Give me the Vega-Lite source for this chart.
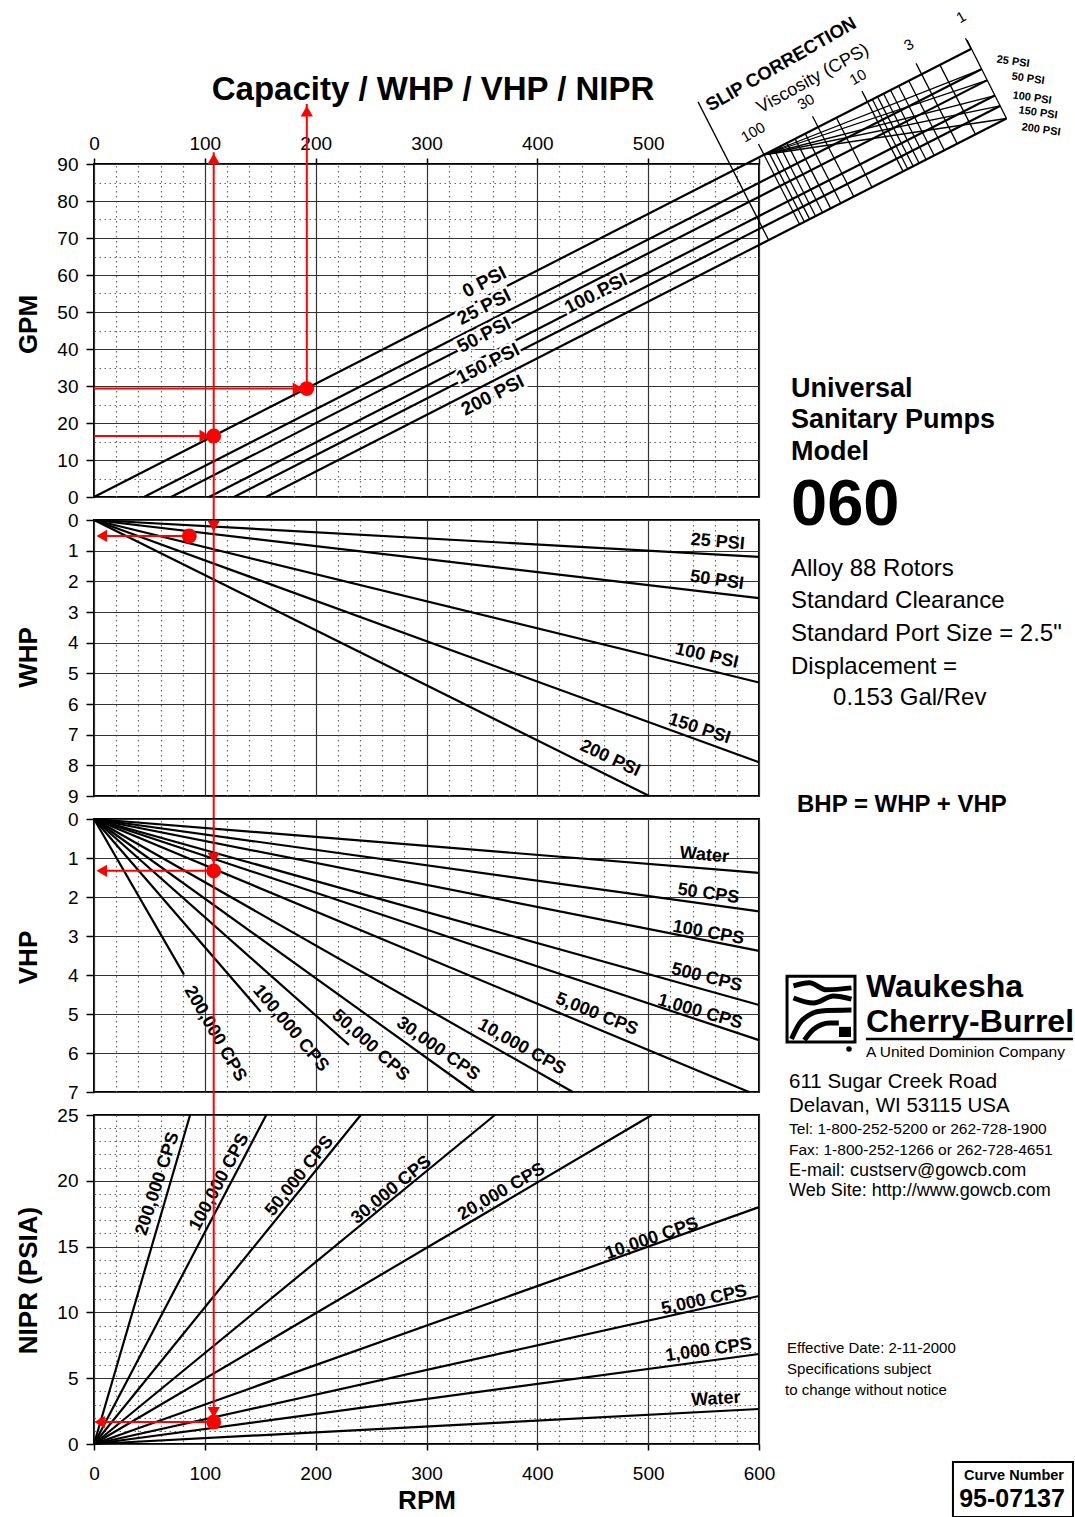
{
"$schema":"https://vega.github.io/schema/vega-lite/v6.json",
"padding":{"left":14,"top":7,"right":0,"bottom":0},
"background":"white",
"bounds":"flush",
"spacing":23,
"config":{
 "view":{"stroke":"#000","strokeWidth":2},
 "font":"Liberation Sans",
 "axis":{"labelFont":"Liberation Sans","labelFontSize":19,"labelColor":"#000","titleFont":"Liberation Sans","titleFontSize":26,"titleFontWeight":"bold","titleColor":"#000","domain":false,"tickColor":"#000","tickWidth":1.5,"labelFlush":false,"labelOverlap":false,"gridWidth":1.2,"tickCount":200,"format":"d"},
 "text":{"font":"Liberation Sans","color":"#000"}
},
"datasets":{
 "gpm":[{"s":"0 PSI","x":0,"y":0},{"s":"0 PSI","x":791.3,"y":121.1},{"s":"25 PSI","x":45.1,"y":0},{"s":"25 PSI","x":800.6,"y":115.6},{"s":"50 PSI","x":69.5,"y":0},{"s":"50 PSI","x":805.6,"y":112.6},{"s":"100 PSI","x":103.8,"y":0},{"s":"100 PSI","x":812.8,"y":108.5},{"s":"150 PSI","x":126.3,"y":0},{"s":"150 PSI","x":817.4,"y":105.7},{"s":"200 PSI","x":155.2,"y":0},{"s":"200 PSI","x":823.3,"y":102.3}],
 "slip":[{"seg":"left","x":545.0,"y":106.8},{"seg":"left","x":608.6,"y":69.5},{"seg":"right","x":787.7,"y":123.5},{"seg":"right","x":823.3,"y":102.3},
  {"seg":"f25","x":604.5,"y":92.5},{"seg":"f25","x":800.6,"y":115.6},{"seg":"f50","x":604.5,"y":92.5},{"seg":"f50","x":805.6,"y":112.6},{"seg":"f100","x":604.5,"y":92.5},{"seg":"f100","x":812.8,"y":108.5},{"seg":"f150","x":604.5,"y":92.5},{"seg":"f150","x":817.4,"y":105.7},{"seg":"f200","x":604.5,"y":92.5},{"seg":"f200","x":823.3,"y":102.3},
  {"seg":"h2","x":763.2,"y":116.8},{"seg":"h2","x":795.3,"y":98.0},{"seg":"h3","x":746.7,"y":114.3},{"seg":"h3","x":778.8,"y":95.5},{"seg":"h4","x":735.1,"y":112.5},{"seg":"h4","x":767.2,"y":93.7},{"seg":"h5","x":726.0,"y":111.1},{"seg":"h5","x":758.1,"y":92.3},{"seg":"h6","x":718.6,"y":110.0},{"seg":"h6","x":750.7,"y":91.2},{"seg":"h7","x":712.4,"y":109.0},{"seg":"h7","x":744.5,"y":90.2},{"seg":"h8","x":706.9,"y":108.2},{"seg":"h8","x":739.1,"y":89.4},{"seg":"h9","x":702.2,"y":107.5},{"seg":"h9","x":734.3,"y":88.6},{"seg":"h10","x":697.9,"y":106.8},{"seg":"h10","x":730.0,"y":88.0},
  {"seg":"h20","x":669.8,"y":102.5},{"seg":"h20","x":701.9,"y":83.7},{"seg":"h30","x":653.3,"y":100.0},{"seg":"h30","x":685.5,"y":81.2},{"seg":"h40","x":641.7,"y":98.2},{"seg":"h40","x":673.8,"y":79.4},{"seg":"h50","x":632.6,"y":96.8},{"seg":"h50","x":664.7,"y":78.0},{"seg":"h60","x":625.2,"y":95.7},{"seg":"h60","x":657.3,"y":76.9},{"seg":"h70","x":619.0,"y":94.8},{"seg":"h70","x":651.1,"y":75.9},{"seg":"h80","x":613.6,"y":93.9},{"seg":"h80","x":645.7,"y":75.1},{"seg":"h90","x":608.8,"y":93.2},{"seg":"h90","x":640.9,"y":74.4},{"seg":"h100","x":604.5,"y":92.5},{"seg":"h100","x":636.6,"y":73.7},
  {"seg":"k100","x":599.5,"y":95.4},{"seg":"k100","x":604.5,"y":92.5},{"seg":"k30","x":648.3,"y":102.9},{"seg":"k30","x":653.3,"y":100.0},{"seg":"k10","x":692.9,"y":109.7},{"seg":"k10","x":697.9,"y":106.8},{"seg":"k3","x":741.7,"y":117.2},{"seg":"k3","x":746.7,"y":114.3},{"seg":"k1","x":786.3,"y":124.0},{"seg":"k1","x":791.3,"y":121.1}],
 "slipNum":[{"t":"100","x":594.6,"y":98.6},{"t":"30","x":642.4,"y":106.8},{"t":"10","x":689.3,"y":113.5},{"t":"3","x":735.3,"y":122.2},{"t":"1","x":782.3,"y":129.7}],
 "slipPsi":[{"t":"25 PSI","x":829.2,"y":117.6},{"t":"50 PSI","x":842.7,"y":113.0},{"t":"100 PSI","x":846.3,"y":107.8},{"t":"150 PSI","x":851.7,"y":103.8},{"t":"200 PSI","x":854.4,"y":99.2}],
 "slipTitle":[{"t":"SLIP CORRECTION","x":619.8,"y":117.0}],
 "slipVisc":[{"t":"Viscosity (CPS)","x":648.7,"y":113.0}],
 "gpmLab":[{"t":"0 PSI","x":352.2,"y":58.1},{"t":"25 PSI","x":351.9,"y":51.35},{"t":"50 PSI","x":351.9,"y":43.78},{"t":"100 PSI","x":452.9,"y":54.95},{"t":"150 PSI","x":355.5,"y":36.03},{"t":"200 PSI","x":359.7,"y":27.48}],
 "title":[{"t":"Capacity / WHP / VHP / NIPR","x":305.9,"y":110.0}],
 "gpmInfo":[{"t":"Universal","x":628.9,"y":29.2},{"t":"Sanitary Pumps","x":628.9,"y":20.8},{"t":"Model","x":628.9,"y":12.2}],
 "gpm060":[{"t":"060","x":628.9,"y":-2.2}],
 "gpmRed":[{"x":108,"x2":108,"y":93.2,"y2":-6.2},{"x":192,"x2":192,"y":29.3,"y2":106.2},{"x":0,"x2":186,"y":29.3,"y2":29.3},{"x":0,"x2":102,"y":16.5,"y2":16.5}],
 "gpmArrow":[{"d":"up","x":108,"y":91.4},{"d":"up","x":192,"y":104.3},{"d":"right","x":184,"y":29.3},{"d":"right","x":100,"y":16.5}],
 "gpmDot":[{"x":192,"y":29.3},{"x":108,"y":16.5}],
 "whp":[{"s":"25 PSI","x":0,"y":0},{"s":"25 PSI","x":600,"y":1.2},{"s":"50 PSI","x":0,"y":0},{"s":"50 PSI","x":600,"y":2.55},{"s":"100 PSI","x":0,"y":0},{"s":"100 PSI","x":600,"y":5.3},{"s":"150 PSI","x":0,"y":0},{"s":"150 PSI","x":600,"y":7.9},{"s":"200 PSI","x":0,"y":0},{"s":"200 PSI","x":501,"y":9}],
 "whpLab":[{"t":"25 PSI","x":562.7,"y":0.72},{"t":"50 PSI","x":562.1,"y":1.97},{"t":"100 PSI","x":552.8,"y":4.44},{"t":"150 PSI","x":546.2,"y":6.81},{"t":"200 PSI","x":465.6,"y":7.78}],
 "whpInfo":[{"t":"Alloy 88 Rotors","x":628.9,"y":1.6},{"t":"Standard Clearance","x":628.9,"y":2.64},{"t":"Standard Port Size = 2.5\"","x":628.9,"y":3.72},{"t":"Displacement =","x":628.9,"y":4.79},{"t":"0.153 Gal/Rev","x":666.8,"y":5.8}],
 "whpBhp":[{"t":"BHP = WHP + VHP","x":634.3,"y":9.29}],
 "whpRed":[{"x":108,"x2":108,"y":0,"y2":9.75},{"x":5,"x2":86,"y":0.52,"y2":0.52}],
 "whpArrow":[{"d":"down","x":108,"y":0.2},{"d":"left","x":7,"y":0.52}],
 "whpDot":[{"x":86,"y":0.52}],
 "vhp":[{"s":"Water","x":0,"y":0},{"s":"Water","x":600,"y":1.38},{"s":"50 CPS","x":0,"y":0},{"s":"50 CPS","x":600,"y":2.37},{"s":"100 CPS","x":0,"y":0},{"s":"100 CPS","x":600,"y":3.38},{"s":"500 CPS","x":0,"y":0},{"s":"500 CPS","x":600,"y":4.77},{"s":"1,000 CPS","x":0,"y":0},{"s":"1,000 CPS","x":600,"y":5.67},{"s":"5,000 CPS","x":0,"y":0},{"s":"5,000 CPS","x":591,"y":7},{"s":"10,000 CPS","x":0,"y":0},{"s":"10,000 CPS","x":432,"y":7},{"s":"30,000 CPS","x":0,"y":0},{"s":"30,000 CPS","x":343,"y":7},{"s":"50,000 CPS","x":0,"y":0},{"s":"50,000 CPS","x":230,"y":5.79},{"s":"100,000 CPS","x":0,"y":0},{"s":"100,000 CPS","x":150.4,"y":4.94},{"s":"200,000 CPS","x":0,"y":0},{"s":"200,000 CPS","x":81.2,"y":3.99}],
 "vhpLab":[{"t":"Water","x":550.7,"y":0.93},{"t":"50 CPS","x":554.3,"y":1.92},{"t":"100 CPS","x":554.3,"y":2.92},{"t":"500 CPS","x":552.8,"y":4.07},{"t":"1,000 CPS","x":546.8,"y":4.95},{"t":"5,000 CPS","x":453.6,"y":5.01},{"t":"10,000 CPS","x":385.9,"y":5.85},{"t":"30,000 CPS","x":310.4,"y":5.9},{"t":"50,000 CPS","x":249.5,"y":5.81},{"t":"100,000 CPS","x":177.3,"y":5.37},{"t":"200,000 CPS","x":109.2,"y":5.51}],
 "vhpRed":[{"x":108,"x2":108,"y":0,"y2":7.59},{"x":5,"x2":108,"y":1.33,"y2":1.33}],
 "vhpArrow":[{"d":"down","x":108,"y":1.0},{"d":"left","x":7,"y":1.33}],
 "vhpDot":[{"x":108,"y":1.33}],
 "brand":[{"t":"Waukesha","x":696.5,"y":4.31},{"t":"Cherry-Burrel","x":696.5,"y":5.21}],
 "udc":[{"t":"A United Dominion Company","x":696.5,"y":5.97}],
 "addr1":[{"t":"611 Sugar Creek Road","x":627.1,"y":6.74}],
 "underline":[{"x":696.5,"x2":883.3,"y":5.64}],
 "logoBox":[{"x":625.3,"x2":686.6,"y":4.03,"y2":5.72}],
 "logoSq":[{"x":672.2,"x2":683.0,"y":5.33,"y2":5.59}],
 "logoDot":[{"x":681.2,"y":5.9}],
 "logo":[{"seg":"c1","x":631.1,"y":4.28},{"seg":"c1","x":645.5,"y":4.2},{"seg":"c1","x":660.9,"y":4.38},{"seg":"c1","x":683.4,"y":4.33},
  {"seg":"c2","x":631.1,"y":4.59},{"seg":"c2","x":649.2,"y":4.72},{"seg":"c2","x":667.2,"y":4.54},{"seg":"c2","x":683.4,"y":4.62},
  {"seg":"c3","x":629.3,"y":5.64},{"seg":"c3","x":638.3,"y":5.18},{"seg":"c3","x":656.4,"y":4.92},{"seg":"c3","x":683.4,"y":4.9},
  {"seg":"c4","x":641.0,"y":5.67},{"seg":"c4","x":649.2,"y":5.39},{"seg":"c4","x":663.6,"y":5.23},{"seg":"c4","x":672.0,"y":5.23}],
 "nipr":[{"s":"200,000 CPS","x":0,"y":0},{"s":"200,000 CPS","x":86.7,"y":25},{"s":"100,000 CPS","x":0,"y":0},{"s":"100,000 CPS","x":155.4,"y":25},{"s":"50,000 CPS","x":0,"y":0},{"s":"50,000 CPS","x":240.7,"y":25},{"s":"30,000 CPS","x":0,"y":0},{"s":"30,000 CPS","x":361.7,"y":25},{"s":"20,000 CPS","x":0,"y":0},{"s":"20,000 CPS","x":503.3,"y":25},{"s":"10,000 CPS","x":0,"y":0},{"s":"10,000 CPS","x":600,"y":18.0},{"s":"5,000 CPS","x":0,"y":0},{"s":"5,000 CPS","x":600,"y":11.25},{"s":"1,000 CPS","x":0,"y":0},{"s":"1,000 CPS","x":600,"y":6.84},{"s":"Water","x":0,"y":0},{"s":"Water","x":600,"y":2.66}],
 "niprLab":[{"t":"200,000 CPS","x":57.5,"y":19.78},{"t":"100,000 CPS","x":113.2,"y":19.9},{"t":"50,000 CPS","x":185.5,"y":20.36},{"t":"30,000 CPS","x":268.4,"y":19.3},{"t":"20,000 CPS","x":367.8,"y":19.15},{"t":"10,000 CPS","x":503.3,"y":15.6},{"t":"5,000 CPS","x":550.6,"y":10.92},{"t":"1,000 CPS","x":554.5,"y":7.12},{"t":"Water","x":561.1,"y":3.4}],
 "niprRed":[{"x":108,"x2":108,"y":25,"y2":1.67},{"x":3,"x2":108,"y":1.67,"y2":1.67}],
 "niprArrow":[{"d":"down","x":108,"y":2.4},{"d":"left","x":5,"y":1.67}],
 "niprDot":[{"x":108,"y":1.67}],
 "addr2":[{"t":"Delavan, WI 53115 USA","x":627.1,"y":25.68}],
 "tel":[{"t":"Tel: 1-800-252-5200 or 262-728-1900","x":627.1,"y":23.94},{"t":"Fax: 1-800-252-1266 or 262-728-4651","x":627.1,"y":22.34}],
 "web":[{"t":"E-mail: custserv@gowcb.com","x":627.1,"y":20.74},{"t":"Web Site: http://www.gowcb.com","x":627.1,"y":19.22}],
 "eff":[{"t":"Effective Date: 2-11-2000","x":625.3,"y":7.29},{"t":"Specifications subject","x":625.3,"y":5.7},{"t":"to change without notice","x":623.5,"y":4.1}],
 "curveBox":[{"x":775.0,"x2":883.3,"y":-1.37,"y2":-5.55}],
 "curveLab":[{"t":"Curve Number","x":830.1,"y":-2.43}],
 "curveNum":[{"t":"95-07137","x":828.3,"y":-4.18}]
},
"vconcat":[
 {"width":665,"height":333,
  "layer":[
   {"data":{"name":"gpm"},"mark":{"type":"line","color":"#000","strokeWidth":2.2},
    "encoding":{
     "x":{"field":"x","type":"quantitative","scale":{"domain":[0,600],"nice":false,"zero":false},
      "axis":{"orient":"top","title":null,"format":"d","labelOverlap":false,"tickCount":200,"values":[0,20,40,60,80,100,120,140,160,180,200,220,240,260,280,300,320,340,360,380,400,420,440,460,480,500,520,540,560,580,600],
       "labelExpr":"datum.value % 100 === 0 && datum.value <= 500 ? datum.label : ''","grid":true,
       "gridColor":{"condition":{"test":"datum.value % 100 === 0","value":"#333"},"value":"#666"},
       "gridDash":{"condition":{"test":"datum.value % 100 === 0","value":[]},"value":[1.5,3.5]},
       "tickOpacity":{"condition":{"test":"datum.value % 100 === 0","value":1},"value":0},
       "tickSize":6,"labelPadding":5}},
     "y":{"field":"y","type":"quantitative","scale":{"domain":[0,90],"nice":false,"zero":false},
      "axis":{"title":"GPM","titleX":-66,"titleY":160,"titleBaseline":"middle","format":"d","labelOverlap":false,"tickCount":200,"values":[0,5,10,15,20,25,30,35,40,45,50,55,60,65,70,75,80,85,90],
       "labelExpr":"datum.value % 10 === 0 ? datum.label : ''","grid":true,
       "gridColor":{"condition":{"test":"datum.value % 10 === 0","value":"#333"},"value":"#666"},
       "gridDash":{"condition":{"test":"datum.value % 10 === 0","value":[]},"value":[1.5,3.5]},
       "tickOpacity":{"condition":{"test":"datum.value % 10 === 0","value":1},"value":0},
       "tickSize":8,"labelPadding":8}},
     "detail":{"field":"s"}}},
   {"data":{"name":"slip"},"mark":{"type":"line","color":"#000","strokeWidth":1.3},
    "encoding":{"x":{"field":"x","type":"quantitative"},"y":{"field":"y","type":"quantitative"},"detail":{"field":"seg"}}},
   {"data":{"name":"slipNum"},"mark":{"type":"text","fontSize":15,"angle":-30},
    "encoding":{"x":{"field":"x","type":"quantitative"},"y":{"field":"y","type":"quantitative"},"text":{"field":"t"}}},
   {"data":{"name":"slipPsi"},"mark":{"type":"text","fontSize":11,"fontWeight":"bold","angle":8},
    "encoding":{"x":{"field":"x","type":"quantitative"},"y":{"field":"y","type":"quantitative"},"text":{"field":"t"}}},
   {"data":{"name":"slipTitle"},"mark":{"type":"text","fontSize":18.5,"fontWeight":"bold","angle":-30},
    "encoding":{"x":{"field":"x","type":"quantitative"},"y":{"field":"y","type":"quantitative"},"text":{"field":"t"}}},
   {"data":{"name":"slipVisc"},"mark":{"type":"text","fontSize":18,"angle":-29},
    "encoding":{"x":{"field":"x","type":"quantitative"},"y":{"field":"y","type":"quantitative"},"text":{"field":"t"}}},
   {"data":{"name":"gpmLab"},"mark":{"type":"text","fontSize":19,"fontWeight":"bold","angle":-27,"stroke":"white","strokeWidth":5,"fill":"white"},
    "encoding":{"x":{"field":"x","type":"quantitative"},"y":{"field":"y","type":"quantitative"},"text":{"field":"t"}}},
   {"data":{"name":"gpmLab"},"mark":{"type":"text","fontSize":19,"fontWeight":"bold","angle":-27},
    "encoding":{"x":{"field":"x","type":"quantitative"},"y":{"field":"y","type":"quantitative"},"text":{"field":"t"}}},
   {"data":{"name":"title"},"mark":{"type":"text","fontSize":33,"fontWeight":"bold"},
    "encoding":{"x":{"field":"x","type":"quantitative"},"y":{"field":"y","type":"quantitative"},"text":{"field":"t"}}},
   {"data":{"name":"gpmInfo"},"mark":{"type":"text","fontSize":27,"fontWeight":"bold","align":"left"},
    "encoding":{"x":{"field":"x","type":"quantitative"},"y":{"field":"y","type":"quantitative"},"text":{"field":"t"}}},
   {"data":{"name":"gpm060"},"mark":{"type":"text","fontSize":65,"fontWeight":"bold","align":"left"},
    "encoding":{"x":{"field":"x","type":"quantitative"},"y":{"field":"y","type":"quantitative"},"text":{"field":"t"}}},
   {"data":{"name":"gpmRed"},"mark":{"type":"rule","color":"#f00","strokeWidth":2},
    "encoding":{"x":{"field":"x","type":"quantitative"},"x2":{"field":"x2"},"y":{"field":"y","type":"quantitative"},"y2":{"field":"y2"}}},
   {"data":{"name":"gpmArrow"},"mark":{"type":"point","filled":true,"color":"#f00","size":150,"opacity":1},
    "encoding":{"x":{"field":"x","type":"quantitative"},"y":{"field":"y","type":"quantitative"},
     "shape":{"field":"d","type":"nominal","scale":{"domain":["up","down","left","right"],"range":["triangle-up","triangle-down","triangle-left","triangle-right"]},"legend":null}}},
   {"data":{"name":"gpmDot"},"mark":{"type":"circle","color":"#f00","size":220,"opacity":1},
    "encoding":{"x":{"field":"x","type":"quantitative"},"y":{"field":"y","type":"quantitative"}}}
  ]},
 {"width":665,"height":276,
  "layer":[
   {"data":{"name":"whp"},"mark":{"type":"line","color":"#000","strokeWidth":2.2},
    "encoding":{
     "x":{"field":"x","type":"quantitative","scale":{"domain":[0,600],"nice":false,"zero":false},
      "axis":{"orient":"bottom","title":null,"labels":false,"ticks":false,"labelOverlap":false,"tickCount":200,"values":[0,20,40,60,80,100,120,140,160,180,200,220,240,260,280,300,320,340,360,380,400,420,440,460,480,500,520,540,560,580,600],"grid":true,
       "gridColor":{"condition":{"test":"datum.value % 100 === 0","value":"#333"},"value":"#666"},
       "gridDash":{"condition":{"test":"datum.value % 100 === 0","value":[]},"value":[1.5,3.5]}}},
     "y":{"field":"y","type":"quantitative","scale":{"domain":[0,9],"nice":false,"zero":false,"reverse":true},
      "axis":{"title":"WHP","titleX":-66,"titleY":137,"titleBaseline":"middle","format":"d","labelOverlap":false,"tickCount":200,"values":[0,0.5,1,1.5,2,2.5,3,3.5,4,4.5,5,5.5,6,6.5,7,7.5,8,8.5,9],
       "labelExpr":"datum.value % 1 === 0 ? datum.label : ''","grid":true,
       "gridColor":{"condition":{"test":"datum.value % 1 === 0","value":"#333"},"value":"#666"},
       "gridDash":{"condition":{"test":"datum.value % 1 === 0","value":[]},"value":[1.5,3.5]},
       "tickOpacity":{"condition":{"test":"datum.value % 1 === 0","value":1},"value":0},
       "tickSize":8,"labelPadding":8}},
     "detail":{"field":"s"}}},
   {"data":{"name":"whpLab"},"mark":{"type":"text","fontSize":18,"fontWeight":"bold"},
    "encoding":{"x":{"field":"x","type":"quantitative"},"y":{"field":"y","type":"quantitative"},"text":{"field":"t"},
     "angle":{"condition":[{"test":"datum.t==='25 PSI'","value":5},{"test":"datum.t==='50 PSI'","value":8},{"test":"datum.t==='100 PSI'","value":13},{"test":"datum.t==='150 PSI'","value":18}],"value":25}}},
   {"data":{"name":"whpInfo"},"mark":{"type":"text","fontSize":24,"align":"left"},
    "encoding":{"x":{"field":"x","type":"quantitative"},"y":{"field":"y","type":"quantitative"},"text":{"field":"t"}}},
   {"data":{"name":"whpBhp"},"mark":{"type":"text","fontSize":24,"fontWeight":"bold","align":"left"},
    "encoding":{"x":{"field":"x","type":"quantitative"},"y":{"field":"y","type":"quantitative"},"text":{"field":"t"}}},
   {"data":{"name":"whpRed"},"mark":{"type":"rule","color":"#f00","strokeWidth":2},
    "encoding":{"x":{"field":"x","type":"quantitative"},"x2":{"field":"x2"},"y":{"field":"y","type":"quantitative"},"y2":{"field":"y2"}}},
   {"data":{"name":"whpArrow"},"mark":{"type":"point","filled":true,"color":"#f00","size":150,"opacity":1},
    "encoding":{"x":{"field":"x","type":"quantitative"},"y":{"field":"y","type":"quantitative"},
     "shape":{"field":"d","type":"nominal","scale":{"domain":["up","down","left","right"],"range":["triangle-up","triangle-down","triangle-left","triangle-right"]},"legend":null}}},
   {"data":{"name":"whpDot"},"mark":{"type":"circle","color":"#f00","size":220,"opacity":1},
    "encoding":{"x":{"field":"x","type":"quantitative"},"y":{"field":"y","type":"quantitative"}}}
  ]},
 {"width":665,"height":273,
  "layer":[
   {"data":{"name":"vhp"},"mark":{"type":"line","color":"#000","strokeWidth":2.2},
    "encoding":{
     "x":{"field":"x","type":"quantitative","scale":{"domain":[0,600],"nice":false,"zero":false},
      "axis":{"orient":"bottom","title":null,"labels":false,"ticks":false,"labelOverlap":false,"tickCount":200,"values":[0,20,40,60,80,100,120,140,160,180,200,220,240,260,280,300,320,340,360,380,400,420,440,460,480,500,520,540,560,580,600],"grid":true,
       "gridColor":{"condition":{"test":"datum.value % 100 === 0","value":"#333"},"value":"#666"},
       "gridDash":{"condition":{"test":"datum.value % 100 === 0","value":[]},"value":[1.5,3.5]}}},
     "y":{"field":"y","type":"quantitative","scale":{"domain":[0,7],"nice":false,"zero":false,"reverse":true},
      "axis":{"title":"VHP","titleX":-66,"titleY":138,"titleBaseline":"middle","format":"d","labelOverlap":false,"tickCount":200,"values":[0,0.5,1,1.5,2,2.5,3,3.5,4,4.5,5,5.5,6,6.5,7],
       "labelExpr":"datum.value % 1 === 0 ? datum.label : ''","grid":true,
       "gridColor":{"condition":{"test":"datum.value % 1 === 0","value":"#333"},"value":"#666"},
       "gridDash":{"condition":{"test":"datum.value % 1 === 0","value":[]},"value":[1.5,3.5]},
       "tickOpacity":{"condition":{"test":"datum.value % 1 === 0","value":1},"value":0},
       "tickSize":8,"labelPadding":8}},
     "detail":{"field":"s"}}},
   {"data":{"name":"vhpLab"},"mark":{"type":"text","fontSize":18,"fontWeight":"bold"},
    "encoding":{"x":{"field":"x","type":"quantitative"},"y":{"field":"y","type":"quantitative"},"text":{"field":"t"},
     "angle":{"condition":[{"test":"datum.t==='Water'","value":5},{"test":"datum.t==='50 CPS'","value":8},{"test":"datum.t==='100 CPS'","value":10},{"test":"datum.t==='500 CPS'","value":14},{"test":"datum.t==='1,000 CPS'","value":16},{"test":"datum.t==='5,000 CPS'","value":22},{"test":"datum.t==='10,000 CPS'","value":29},{"test":"datum.t==='30,000 CPS'","value":35},{"test":"datum.t==='50,000 CPS'","value":42},{"test":"datum.t==='100,000 CPS'","value":50}],"value":60}}},
   {"data":{"name":"logoBox"},"mark":{"type":"rect","fill":"white","stroke":"#000","strokeWidth":3},
    "encoding":{"x":{"field":"x","type":"quantitative"},"x2":{"field":"x2"},"y":{"field":"y","type":"quantitative"},"y2":{"field":"y2"}}},
   {"data":{"name":"logo"},"mark":{"type":"line","color":"#000","strokeWidth":5,"interpolate":"monotone"},
    "encoding":{"x":{"field":"x","type":"quantitative"},"y":{"field":"y","type":"quantitative"},"detail":{"field":"seg"}}},
   {"data":{"name":"logoSq"},"mark":{"type":"rect","fill":"#000"},
    "encoding":{"x":{"field":"x","type":"quantitative"},"x2":{"field":"x2"},"y":{"field":"y","type":"quantitative"},"y2":{"field":"y2"}}},
   {"data":{"name":"logoDot"},"mark":{"type":"circle","color":"#000","size":30,"opacity":1},
    "encoding":{"x":{"field":"x","type":"quantitative"},"y":{"field":"y","type":"quantitative"}}},
   {"data":{"name":"brand"},"mark":{"type":"text","fontSize":32,"fontWeight":"bold","align":"left"},
    "encoding":{"x":{"field":"x","type":"quantitative"},"y":{"field":"y","type":"quantitative"},"text":{"field":"t"}}},
   {"data":{"name":"underline"},"mark":{"type":"rule","color":"#000","strokeWidth":2.5},
    "encoding":{"x":{"field":"x","type":"quantitative"},"x2":{"field":"x2"},"y":{"field":"y","type":"quantitative"}}},
   {"data":{"name":"udc"},"mark":{"type":"text","fontSize":15.5,"align":"left"},
    "encoding":{"x":{"field":"x","type":"quantitative"},"y":{"field":"y","type":"quantitative"},"text":{"field":"t"}}},
   {"data":{"name":"addr1"},"mark":{"type":"text","fontSize":20.5,"align":"left"},
    "encoding":{"x":{"field":"x","type":"quantitative"},"y":{"field":"y","type":"quantitative"},"text":{"field":"t"}}},
   {"data":{"name":"vhpRed"},"mark":{"type":"rule","color":"#f00","strokeWidth":2},
    "encoding":{"x":{"field":"x","type":"quantitative"},"x2":{"field":"x2"},"y":{"field":"y","type":"quantitative"},"y2":{"field":"y2"}}},
   {"data":{"name":"vhpArrow"},"mark":{"type":"point","filled":true,"color":"#f00","size":150,"opacity":1},
    "encoding":{"x":{"field":"x","type":"quantitative"},"y":{"field":"y","type":"quantitative"},
     "shape":{"field":"d","type":"nominal","scale":{"domain":["up","down","left","right"],"range":["triangle-up","triangle-down","triangle-left","triangle-right"]},"legend":null}}},
   {"data":{"name":"vhpDot"},"mark":{"type":"circle","color":"#f00","size":220,"opacity":1},
    "encoding":{"x":{"field":"x","type":"quantitative"},"y":{"field":"y","type":"quantitative"}}}
  ]},
 {"width":665,"height":329,
  "layer":[
   {"data":{"name":"nipr"},"mark":{"type":"line","color":"#000","strokeWidth":2.2},
    "encoding":{
     "x":{"field":"x","type":"quantitative","scale":{"domain":[0,600],"nice":false,"zero":false},
      "axis":{"orient":"bottom","title":"RPM","titlePadding":4,"format":"d","labelOverlap":false,"tickCount":200,"values":[0,20,40,60,80,100,120,140,160,180,200,220,240,260,280,300,320,340,360,380,400,420,440,460,480,500,520,540,560,580,600],
       "labelExpr":"datum.value % 100 === 0 ? datum.label : ''","grid":true,
       "gridColor":{"condition":{"test":"datum.value % 100 === 0","value":"#333"},"value":"#666"},
       "gridDash":{"condition":{"test":"datum.value % 100 === 0","value":[]},"value":[1.5,3.5]},
       "tickOpacity":{"condition":{"test":"datum.value % 100 === 0","value":1},"value":0},
       "tickSize":6,"labelPadding":14}},
     "y":{"field":"y","type":"quantitative","scale":{"domain":[0,25],"nice":false,"zero":false},
      "axis":{"title":"NIPR (PSIA)","titleX":-66,"titleY":165,"titleBaseline":"middle","format":"d","labelOverlap":false,"tickCount":200,"values":[0,1,2,3,4,5,6,7,8,9,10,11,12,13,14,15,16,17,18,19,20,21,22,23,24,25],
       "labelExpr":"datum.value % 5 === 0 ? datum.label : ''","grid":true,
       "gridColor":{"condition":{"test":"datum.value % 5 === 0","value":"#333"},"value":"#666"},
       "gridDash":{"condition":{"test":"datum.value % 5 === 0","value":[]},"value":[1.5,3.5]},
       "tickOpacity":{"condition":{"test":"datum.value % 5 === 0","value":1},"value":0},
       "tickSize":8,"labelPadding":8}},
     "detail":{"field":"s"}}},
   {"data":{"name":"niprLab"},"mark":{"type":"text","fontSize":18,"fontWeight":"bold"},
    "encoding":{"x":{"field":"x","type":"quantitative"},"y":{"field":"y","type":"quantitative"},"text":{"field":"t"},
     "angle":{"condition":[{"test":"datum.t==='200,000 CPS'","value":-72},{"test":"datum.t==='100,000 CPS'","value":-62},{"test":"datum.t==='50,000 CPS'","value":-51},{"test":"datum.t==='30,000 CPS'","value":-39},{"test":"datum.t==='20,000 CPS'","value":-30},{"test":"datum.t==='10,000 CPS'","value":-19},{"test":"datum.t==='5,000 CPS'","value":-12.5},{"test":"datum.t==='1,000 CPS'","value":-8}],"value":-3}}},
   {"data":{"name":"addr2"},"mark":{"type":"text","fontSize":20.5,"align":"left"},
    "encoding":{"x":{"field":"x","type":"quantitative"},"y":{"field":"y","type":"quantitative"},"text":{"field":"t"}}},
   {"data":{"name":"tel"},"mark":{"type":"text","fontSize":15.5,"align":"left"},
    "encoding":{"x":{"field":"x","type":"quantitative"},"y":{"field":"y","type":"quantitative"},"text":{"field":"t"}}},
   {"data":{"name":"web"},"mark":{"type":"text","fontSize":18,"align":"left"},
    "encoding":{"x":{"field":"x","type":"quantitative"},"y":{"field":"y","type":"quantitative"},"text":{"field":"t"}}},
   {"data":{"name":"eff"},"mark":{"type":"text","fontSize":15,"align":"left"},
    "encoding":{"x":{"field":"x","type":"quantitative"},"y":{"field":"y","type":"quantitative"},"text":{"field":"t"}}},
   {"data":{"name":"curveBox"},"mark":{"type":"rect","fill":"white","stroke":"#000","strokeWidth":2},
    "encoding":{"x":{"field":"x","type":"quantitative"},"x2":{"field":"x2"},"y":{"field":"y","type":"quantitative"},"y2":{"field":"y2"}}},
   {"data":{"name":"curveLab"},"mark":{"type":"text","fontSize":14.5,"fontWeight":"bold"},
    "encoding":{"x":{"field":"x","type":"quantitative"},"y":{"field":"y","type":"quantitative"},"text":{"field":"t"}}},
   {"data":{"name":"curveNum"},"mark":{"type":"text","fontSize":25,"fontWeight":"bold"},
    "encoding":{"x":{"field":"x","type":"quantitative"},"y":{"field":"y","type":"quantitative"},"text":{"field":"t"}}},
   {"data":{"name":"niprRed"},"mark":{"type":"rule","color":"#f00","strokeWidth":2},
    "encoding":{"x":{"field":"x","type":"quantitative"},"x2":{"field":"x2"},"y":{"field":"y","type":"quantitative"},"y2":{"field":"y2"}}},
   {"data":{"name":"niprArrow"},"mark":{"type":"point","filled":true,"color":"#f00","size":150,"opacity":1},
    "encoding":{"x":{"field":"x","type":"quantitative"},"y":{"field":"y","type":"quantitative"},
     "shape":{"field":"d","type":"nominal","scale":{"domain":["up","down","left","right"],"range":["triangle-up","triangle-down","triangle-left","triangle-right"]},"legend":null}}},
   {"data":{"name":"niprDot"},"mark":{"type":"circle","color":"#f00","size":220,"opacity":1},
    "encoding":{"x":{"field":"x","type":"quantitative"},"y":{"field":"y","type":"quantitative"}}}
  ]}
]
}
